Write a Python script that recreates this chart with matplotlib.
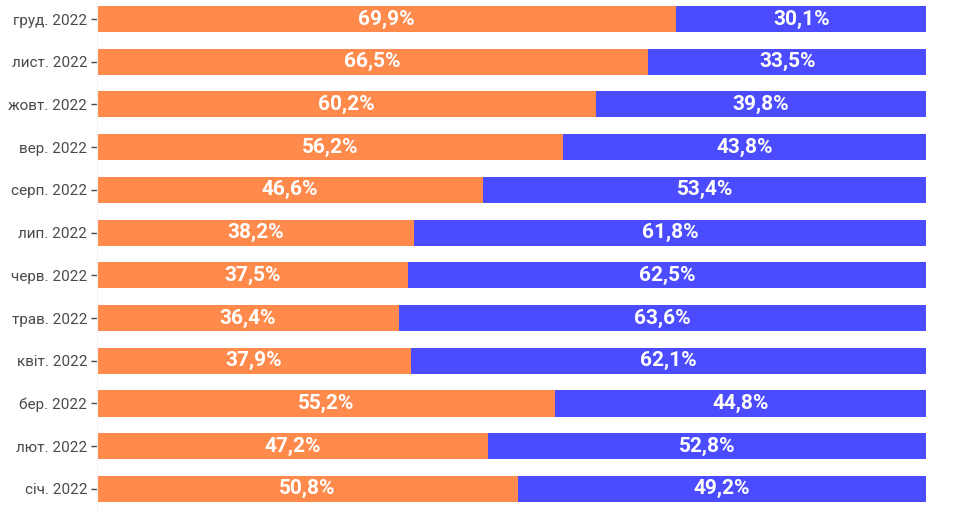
import matplotlib.pyplot as plt
import numpy as np

plt.rcParams["font.family"] = ["Roboto", "DejaVu Sans"]

months = ["січ. 2022", "лют. 2022", "бер. 2022", "квіт. 2022", "трав. 2022", "черв. 2022",
          "лип. 2022", "серп. 2022", "вер. 2022", "жовт. 2022", "лист. 2022", "груд. 2022"]
share_a = [50.8, 47.2, 55.2, 37.9, 36.4, 37.5, 38.2, 46.6, 56.2, 60.2, 66.5, 69.9]
share_b = [49.2, 52.8, 44.8, 62.1, 63.6, 62.5, 61.8, 53.4, 43.8, 39.8, 33.5, 30.1]

ORANGE = "#FF8A4C"
BLUE = "#4B4BFF"

fig = plt.figure(figsize=(9.68, 5.12), dpi=100)
ax = fig.add_axes([97 / 968, 0.0, (926 - 97) / 968, 1.0])

y = np.arange(len(months))
a = np.array(share_a)
b = np.array(share_b)
ax.barh(y, a, height=0.61, color=ORANGE)
ax.barh(y, b, left=a, height=0.61, color=BLUE)

for yi, va, vb in zip(y, a, b):
    ax.text(va / 2, yi, f"{va:.1f}%".replace(".", ","), ha="center", va="center",
            color="white", fontsize=15, fontweight="bold")
    ax.text(va + vb / 2, yi, f"{vb:.1f}%".replace(".", ","), ha="center", va="center",
            color="white", fontsize=15, fontweight="bold")

ax.set_xlim(0, 100)
ax.set_ylim(-0.54, 11.445)
ax.set_yticks(y)
ax.set_yticklabels(months, fontsize=11, color="#4a4a4a")
ax.set_xticks([])
ax.tick_params(axis="y", length=4, width=1, color="#4a4a4a", pad=3)
for side in ["top", "right", "bottom"]:
    ax.spines[side].set_visible(False)
ax.spines["left"].set_color("#f2f2f2")

fig.savefig("out.png", dpi=100)
